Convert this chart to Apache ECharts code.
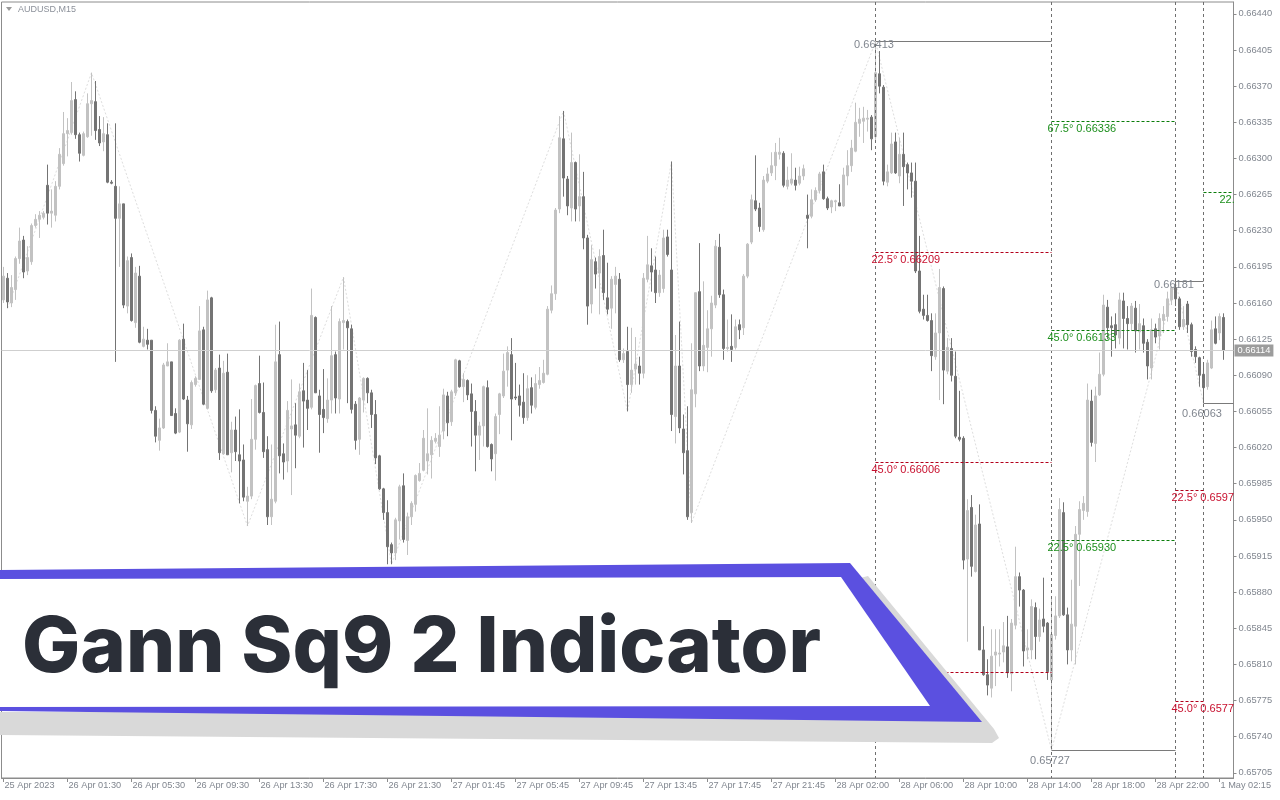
<!DOCTYPE html>
<html>
<head>
<meta charset="utf-8">
<script src="https://cdn.jsdelivr.net/npm/echarts@6/dist/echarts.min.js"></script>
<style>
  html, body { margin: 0; padding: 0; background: #ffffff; }
  #chart { width: 1280px; height: 800px; }
</style>
</head>
<body>
<div id="chart"></div>
<script>
// ---- chart data -------------------------------------------------------
const symbolTitle = 'AUDUSD,M15';
const bannerTitle = 'Gann Sq9 2 Indicator';

// time axis captions, one every 16 bars of M15
const timeLabels = ['25 Apr 2023', '26 Apr 01:30', '26 Apr 05:30', '26 Apr 09:30', '26 Apr 13:30',
  '26 Apr 17:30', '26 Apr 21:30', '27 Apr 01:45', '27 Apr 05:45', '27 Apr 09:45', '27 Apr 13:45',
  '27 Apr 17:45', '27 Apr 21:45', '28 Apr 02:00', '28 Apr 06:00', '28 Apr 10:00', '28 Apr 14:00',
  '28 Apr 18:00', '28 Apr 22:00', '1 May 02:15'];
const barsPerLabel = 16;
const trailingSlots = 2; // empty bars of chart shift on the right

// price scale captions
const priceTicks = [0.65705, 0.65740, 0.65775, 0.65810, 0.65845, 0.65880, 0.65915, 0.65950,
  0.65985, 0.66020, 0.66055, 0.66090, 0.66125, 0.66160, 0.66195, 0.66230, 0.66265, 0.66300,
  0.66335, 0.66370, 0.66405, 0.66440];

// bars: [open, close, low, high]
const candles = [
  [0.66163,0.66186,0.66160,0.66195],[0.66184,0.66161,0.66155,0.66189],[0.66160,0.66175,0.66156,0.66187],[0.66173,0.66203,0.66163,0.66205],
  [0.66203,0.66220,0.66198,0.66233],[0.66221,0.66190,0.66184,0.66225],[0.66191,0.66204,0.66187,0.66215],[0.66200,0.66235,0.66197,0.66237],
  [0.66235,0.66241,0.66233,0.66246],[0.66241,0.66245,0.66223,0.66249],[0.66243,0.66247,0.66241,0.66249],[0.66274,0.66247,0.66236,0.66294],
  [0.66247,0.66249,0.66233,0.66270],[0.66245,0.66273,0.66239,0.66278],[0.66273,0.66304,0.66270,0.66310],[0.66295,0.66324,0.66293,0.66345],
  [0.66324,0.66327,0.66302,0.66339],[0.66325,0.66356,0.66323,0.66374],[0.66357,0.66323,0.66319,0.66365],[0.66323,0.66305,0.66297,0.66325],
  [0.66303,0.66324,0.66302,0.66326],[0.66321,0.66353,0.66320,0.66363],[0.66353,0.66356,0.66322,0.66383],[0.66355,0.66327,0.66318,0.66375],
  [0.66328,0.66315,0.66312,0.66341],[0.66316,0.66324,0.66307,0.66340],[0.66323,0.66277,0.66276,0.66334],[0.66277,0.66276,0.66275,0.66279],
  [0.66273,0.66242,0.66103,0.66334],[0.66242,0.66256,0.66195,0.66273],[0.66256,0.66158,0.66155,0.66256],[0.66157,0.66201,0.66150,0.66205],
  [0.66204,0.66143,0.66142,0.66208],[0.66141,0.66189,0.66136,0.66195],[0.66186,0.66122,0.66121,0.66196],[0.66118,0.66125,0.66117,0.66137],
  [0.66124,0.66120,0.66115,0.66135],[0.66124,0.66056,0.66053,0.66124],[0.66056,0.66031,0.66025,0.66060],[0.66027,0.66039,0.66017,0.66048],
  [0.66039,0.66100,0.66038,0.66102],[0.66099,0.66103,0.66099,0.66121],[0.66103,0.66051,0.66051,0.66103],[0.66053,0.66034,0.66033,0.66058],
  [0.66035,0.66124,0.66034,0.66125],[0.66125,0.66067,0.66066,0.66140],[0.66066,0.66043,0.66016,0.66070],[0.66042,0.66083,0.66038,0.66085],
  [0.66081,0.66087,0.66079,0.66089],[0.66086,0.66133,0.66086,0.66157],[0.66134,0.66062,0.66061,0.66137],[0.66058,0.66163,0.66057,0.66172],
  [0.66165,0.66075,0.66073,0.66166],[0.66076,0.66095,0.66073,0.66097],[0.66097,0.66015,0.66008,0.66110],[0.66014,0.66092,0.66013,0.66104],
  [0.66093,0.66013,0.66013,0.66111],[0.66015,0.66037,0.65996,0.66045],[0.66037,0.66016,0.66007,0.66050],[0.66013,0.66007,0.65966,0.66057],
  [0.66008,0.65972,0.65968,0.66023],[0.65968,0.65973,0.65944,0.65982],[0.65973,0.66028,0.65970,0.66067],[0.66028,0.66080,0.66018,0.66081],
  [0.66082,0.66054,0.66053,0.66109],[0.66054,0.66016,0.66010,0.66083],[0.66018,0.65953,0.65945,0.66031],[0.65953,0.65970,0.65945,0.66023],
  [0.65968,0.66103,0.65966,0.66139],[0.66110,0.66012,0.65995,0.66142],[0.66014,0.66006,0.65989,0.66024],[0.66007,0.66056,0.65996,0.66065],
  [0.66038,0.66041,0.65974,0.66086],[0.66042,0.66032,0.66000,0.66063],[0.66031,0.66074,0.66029,0.66082],[0.66075,0.66065,0.66020,0.66102],
  [0.66066,0.66058,0.66037,0.66095],[0.66059,0.66148,0.66057,0.66174],[0.66146,0.66073,0.66073,0.66147],[0.66070,0.66052,0.66015,0.66076],
  [0.66057,0.66049,0.66034,0.66096],[0.66048,0.66066,0.66044,0.66087],[0.66066,0.66109,0.66053,0.66157],[0.66110,0.66068,0.66053,0.66113],
  [0.66067,0.66142,0.66053,0.66145],[0.66141,0.66143,0.66115,0.66185],[0.66142,0.66136,0.66063,0.66144],[0.66135,0.66057,0.66053,0.66139],
  [0.66062,0.66027,0.66018,0.66065],[0.66028,0.66068,0.66013,0.66069],[0.66066,0.66087,0.66054,0.66088],[0.66087,0.66073,0.66063,0.66088],
  [0.66073,0.66052,0.66039,0.66076],[0.66052,0.66010,0.66004,0.66066],[0.66012,0.65980,0.65979,0.66013],[0.65980,0.65957,0.65950,0.65981],
  [0.65957,0.65924,0.65907,0.65969],[0.65926,0.65918,0.65907,0.65928],[0.65918,0.65950,0.65911,0.65952],[0.65949,0.65982,0.65931,0.65984],
  [0.65983,0.65931,0.65928,0.65995],[0.65930,0.65953,0.65916,0.65957],[0.65953,0.65966,0.65945,0.65968],[0.65965,0.65993,0.65958,0.65994],
  [0.65988,0.65995,0.65987,0.66005],[0.65998,0.66029,0.65997,0.66037],[0.66007,0.66014,0.65994,0.66058],[0.66013,0.66027,0.65990,0.66031],
  [0.66026,0.66029,0.66024,0.66034],[0.66021,0.66032,0.66011,0.66060],[0.66036,0.66071,0.66028,0.66077],[0.66070,0.66044,0.66031,0.66074],
  [0.66045,0.66074,0.66041,0.66076],[0.66073,0.66105,0.66070,0.66106],[0.66104,0.66079,0.66078,0.66105],[0.66079,0.66086,0.66064,0.66092],
  [0.66085,0.66071,0.66066,0.66086],[0.66072,0.66055,0.66021,0.66082],[0.66055,0.66032,0.65997,0.66066],[0.66032,0.66041,0.66008,0.66045],
  [0.66041,0.66079,0.66021,0.66080],[0.66078,0.66021,0.66020,0.66085],[0.66023,0.66009,0.65997,0.66024],[0.66014,0.66050,0.65988,0.66053],
  [0.66052,0.66072,0.66033,0.66073],[0.66070,0.66094,0.66068,0.66111],[0.66095,0.66112,0.66079,0.66118],[0.66110,0.66067,0.66027,0.66126],
  [0.66069,0.66068,0.66066,0.66102],[0.66070,0.66061,0.66050,0.66081],[0.66064,0.66049,0.66043,0.66092],[0.66049,0.66077,0.66046,0.66090],
  [0.66078,0.66061,0.66053,0.66088],[0.66059,0.66082,0.66057,0.66091],[0.66081,0.66085,0.66077,0.66098],[0.66083,0.66092,0.66082,0.66105],
  [0.66091,0.66154,0.66090,0.66157],[0.66153,0.66169,0.66150,0.66177],[0.66169,0.66250,0.66163,0.66252],[0.66251,0.66320,0.66247,0.66341],
  [0.66319,0.66281,0.66263,0.66346],[0.66280,0.66254,0.66245,0.66283],[0.66252,0.66296,0.66239,0.66325],[0.66296,0.66251,0.66239,0.66297],
  [0.66254,0.66263,0.66239,0.66304],[0.66263,0.66223,0.66212,0.66287],[0.66223,0.66157,0.66139,0.66226],[0.66159,0.66202,0.66150,0.66216],
  [0.66200,0.66188,0.66174,0.66204],[0.66189,0.66205,0.66149,0.66212],[0.66206,0.66170,0.66163,0.66231],[0.66165,0.66154,0.66149,0.66199],
  [0.66155,0.66183,0.66135,0.66186],[0.66178,0.66186,0.66150,0.66195],[0.66183,0.66105,0.66103,0.66189],[0.66105,0.66111,0.66102,0.66116],
  [0.66113,0.66081,0.66055,0.66137],[0.66081,0.66095,0.66073,0.66136],[0.66096,0.66101,0.66081,0.66127],[0.66099,0.66092,0.66081,0.66108],
  [0.66092,0.66184,0.66087,0.66189],[0.66183,0.66197,0.66180,0.66225],[0.66196,0.66190,0.66171,0.66213],[0.66192,0.66170,0.66160,0.66205],
  [0.66170,0.66187,0.66166,0.66192],[0.66174,0.66223,0.66170,0.66231],[0.66224,0.66207,0.66205,0.66231],[0.66192,0.66052,0.66036,0.66297],
  [0.66050,0.66099,0.66024,0.66129],[0.66099,0.66039,0.66034,0.66142],[0.66038,0.66015,0.65994,0.66052],[0.66017,0.65953,0.65950,0.66060],
  [0.65957,0.66076,0.65947,0.66121],[0.66072,0.66170,0.66059,0.66170],[0.66171,0.66099,0.66094,0.66218],[0.66099,0.66119,0.66094,0.66181],
  [0.66117,0.66135,0.66093,0.66153],[0.66135,0.66160,0.66108,0.66167],[0.66158,0.66215,0.66155,0.66221],[0.66214,0.66168,0.66165,0.66227],
  [0.66168,0.66116,0.66105,0.66173],[0.66116,0.66117,0.66113,0.66144],[0.66118,0.66115,0.66103,0.66149],[0.66117,0.66137,0.66115,0.66144],
  [0.66139,0.66134,0.66125,0.66144],[0.66136,0.66186,0.66129,0.66188],[0.66186,0.66217,0.66184,0.66218],[0.66219,0.66260,0.66217,0.66265],
  [0.66259,0.66251,0.66249,0.66303],[0.66252,0.66234,0.66229,0.66257],[0.66231,0.66279,0.66229,0.66283],[0.66278,0.66285,0.66276,0.66291],
  [0.66286,0.66293,0.66283,0.66306],[0.66293,0.66306,0.66279,0.66315],[0.66304,0.66306,0.66299,0.66320],[0.66305,0.66274,0.66272,0.66307],
  [0.66273,0.66279,0.66270,0.66292],[0.66276,0.66280,0.66274,0.66305],[0.66279,0.66274,0.66269,0.66291],[0.66276,0.66283,0.66274,0.66292],
  [0.66283,0.66290,0.66279,0.66294],[0.66245,0.66242,0.66213,0.66265],[0.66244,0.66260,0.66242,0.66270],[0.66260,0.66269,0.66258,0.66272],
  [0.66269,0.66285,0.66266,0.66287],[0.66287,0.66261,0.66260,0.66294],[0.66261,0.66252,0.66250,0.66263],[0.66253,0.66259,0.66247,0.66260],
  [0.66258,0.66259,0.66249,0.66260],[0.66257,0.66254,0.66254,0.66275],[0.66254,0.66284,0.66253,0.66291],[0.66283,0.66293,0.66274,0.66308],
  [0.66293,0.66310,0.66287,0.66318],[0.66307,0.66335,0.66306,0.66354],[0.66334,0.66338,0.66321,0.66349],[0.66336,0.66339,0.66315,0.66350],
  [0.66338,0.66339,0.66326,0.66347],[0.66340,0.66319,0.66308,0.66342],[0.66321,0.66383,0.66318,0.66413],[0.66382,0.66370,0.66363,0.66404],
  [0.66369,0.66278,0.66274,0.66371],[0.66277,0.66287,0.66273,0.66294],[0.66286,0.66314,0.66285,0.66325],[0.66316,0.66286,0.66285,0.66325],
  [0.66283,0.66304,0.66276,0.66320],[0.66304,0.66292,0.66254,0.66325],[0.66294,0.66286,0.66270,0.66296],[0.66286,0.66278,0.66262,0.66296],
  [0.66278,0.66191,0.66189,0.66296],[0.66191,0.66152,0.66150,0.66225],[0.66154,0.66148,0.66144,0.66168],[0.66148,0.66143,0.66142,0.66168],
  [0.66143,0.66109,0.66094,0.66150],[0.66108,0.66131,0.66105,0.66150],[0.66131,0.66175,0.66066,0.66193],[0.66174,0.66095,0.66062,0.66176],
  [0.66094,0.66117,0.66091,0.66126],[0.66116,0.66090,0.66084,0.66126],[0.66089,0.66031,0.66029,0.66113],[0.66030,0.66028,0.66026,0.66075],
  [0.66029,0.65911,0.65902,0.66031],[0.65912,0.65959,0.65832,0.65970],[0.65962,0.65905,0.65895,0.65974],[0.65900,0.65945,0.65899,0.65955],
  [0.65946,0.65824,0.65824,0.65965],[0.65824,0.65800,0.65799,0.65847],[0.65800,0.65790,0.65780,0.65815],[0.65787,0.65818,0.65778,0.65844],
  [0.65819,0.65822,0.65789,0.65844],[0.65820,0.65821,0.65808,0.65844],[0.65822,0.65828,0.65812,0.65851],[0.65827,0.65802,0.65797,0.65857],
  [0.65801,0.65850,0.65784,0.65854],[0.65848,0.65895,0.65844,0.65924],[0.65895,0.65882,0.65866,0.65899],[0.65882,0.65823,0.65808,0.65883],
  [0.65824,0.65826,0.65815,0.65844],[0.65824,0.65866,0.65815,0.65873],[0.65865,0.65837,0.65815,0.65870],[0.65837,0.65853,0.65832,0.65864],
  [0.65854,0.65847,0.65841,0.65894],[0.65850,0.65803,0.65795,0.65851],[0.65795,0.65839,0.65727,0.65876],[0.65838,0.65857,0.65834,0.65876],
  [0.65857,0.65960,0.65855,0.65971],[0.65957,0.65858,0.65857,0.65967],[0.65858,0.65824,0.65810,0.65865],[0.65824,0.65849,0.65813,0.65892],
  [0.65847,0.65936,0.65810,0.65944],[0.65936,0.65960,0.65886,0.65968],[0.65959,0.65966,0.65950,0.65973],[0.65958,0.66066,0.65953,0.66082],
  [0.66065,0.66025,0.66021,0.66076],[0.66024,0.66070,0.66006,0.66079],[0.66071,0.66091,0.66070,0.66112],[0.66091,0.66158,0.66089,0.66168],
  [0.66156,0.66136,0.66125,0.66163],[0.66138,0.66136,0.66108,0.66147],[0.66139,0.66129,0.66116,0.66150],[0.66126,0.66163,0.66120,0.66170],
  [0.66162,0.66145,0.66116,0.66170],[0.66145,0.66140,0.66115,0.66157],[0.66140,0.66157,0.66133,0.66160],[0.66155,0.66133,0.66112,0.66162],
  [0.66132,0.66140,0.66115,0.66159],[0.66138,0.66121,0.66112,0.66145],[0.66122,0.66099,0.66086,0.66125],[0.66097,0.66134,0.66086,0.66145],
  [0.66135,0.66127,0.66121,0.66140],[0.66128,0.66145,0.66115,0.66150],[0.66143,0.66149,0.66131,0.66157],[0.66147,0.66164,0.66142,0.66171],
  [0.66163,0.66175,0.66158,0.66176],[0.66175,0.66164,0.66157,0.66181],[0.66164,0.66137,0.66134,0.66166],[0.66137,0.66144,0.66134,0.66157],
  [0.66159,0.66139,0.66131,0.66162],[0.66139,0.66113,0.66108,0.66141],[0.66115,0.66108,0.66102,0.66118],[0.66107,0.66090,0.66079,0.66108],
  [0.66091,0.66078,0.66063,0.66102],[0.66079,0.66102,0.66076,0.66105],[0.66097,0.66134,0.66096,0.66143],[0.66135,0.66121,0.66120,0.66147],
  [0.66131,0.66147,0.66124,0.66150],[0.66146,0.66114,0.66105,0.66150]
];

// ZigZag pivots: [bar, price]
const zigzag = [[1, 0.66155], [22, 0.66383], [61, 0.65944], [85, 0.66185], [97, 0.65907],
  [140, 0.66346], [156, 0.66055], [167, 0.66297], [172, 0.65947], [218, 0.66413],
  [262, 0.65727], [293, 0.66181], [300, 0.66063]];

// swing extremes used as Square-of-9 anchors: [from bar, to bar (null = open), price]
const swingBars = [218, 262, 293, 300];
const swingLines = [[218, 262, 0.66413], [262, 293, 0.65727], [293, 300, 0.66181], [300, null, 0.66063]];
const swingKinds = ['high', 'low', 'high', 'low'];

// Square-of-9 levels: [from bar, to bar (null = open), angle, price]
const gannLevels = [
  [218, 262, 22.5, 0.66209], [218, 262, 45.0, 0.66006], [218, 262, 67.5, 0.65802],
  [262, 293, 22.5, 0.65930], [262, 293, 45.0, 0.66133], [262, 293, 67.5, 0.66336],
  [293, 300, 22.5, 0.65978], [293, 300, 45.0, 0.65774],
  [300, null, 22.5, 0.66267]
];
const gannSides = ['down', 'down', 'down', 'up', 'up', 'up', 'down', 'down', 'up'];

// ---- rendering ----------------------------------------------------------
const FONT = '"Liberation Sans", Arial, sans-serif';
const AXIS_COLOR = '#8c8c8c';
const TEXT_COLOR = '#80868f';
const BULL = '#c2c2c2';
const BEAR = '#747474';
const sideStyle = {
  down: { line: '#b3001b', text: '#c8102e' },
  up:   { line: '#0a7d0a', text: '#1d8f1d' }
};

const lastBar = candles.length - 1;
const lastClose = candles[lastBar][1];
const slotNames = [];
for (let i = 0; i < candles.length + trailingSlots; i++) slotNames.push(String(i));
const isLabelBar = (index) => index % barsPerLabel === 0 && index / barsPerLabel < timeLabels.length;

const crisp = (v) => Math.floor(v) + 0.5;

function rightEdge(params, api, endBar) {
  if (endBar === null) return params.coordSys.x + params.coordSys.width;
  return crisp(api.coord([endBar, 0])[0]);
}

function renderSwing(params, api) {
  const row = swingLines[params.dataIndex];
  const start = api.coord([row[0], row[2]]);
  const x1 = crisp(start[0]);
  const x2 = rightEdge(params, api, row[1]);
  const y = crisp(start[1]);
  const isHigh = swingKinds[params.dataIndex] === 'high';
  return {
    type: 'group',
    children: [
      { type: 'line', shape: { x1: x1, y1: y, x2: x2, y2: y },
        style: { stroke: '#7a7a7a', lineWidth: 1 } },
      { type: 'text', x: x1 - 1.5, y: y + (isHigh ? 3 : 10),
        style: { text: row[2].toFixed(5), fill: TEXT_COLOR, font: '11px ' + FONT,
                 align: 'center', verticalAlign: 'middle' } }
    ]
  };
}

function renderGann(params, api) {
  const row = gannLevels[params.dataIndex];
  const side = sideStyle[gannSides[params.dataIndex]];
  const start = api.coord([row[0], row[3]]);
  const x1 = crisp(start[0]);
  const x2 = rightEdge(params, api, row[1]);
  const y = crisp(start[1]);
  const tagX = (row[1] === null ? crisp(api.coord([lastBar, row[3]])[0]) : x1) - 4;
  return {
    type: 'group',
    children: [
      { type: 'line', shape: { x1: x1, y1: y, x2: x2, y2: y },
        style: { stroke: side.line, lineWidth: 1, lineDash: [3, 2] } },
      { type: 'text', x: tagX, y: y + 7,
        style: { text: row[2].toFixed(1) + '\u00b0 ' + row[3].toFixed(5), fill: side.text,
                 font: '11px ' + FONT, align: 'left', verticalAlign: 'middle' } }
    ]
  };
}

function renderPivotLine(params, api) {
  const x = crisp(api.coord([swingBars[params.dataIndex], 0])[0]);
  const cs = params.coordSys;
  return { type: 'line', shape: { x1: x, y1: cs.y, x2: x, y2: cs.y + cs.height },
           style: { stroke: '#6f6f6f', lineWidth: 1, lineDash: [3, 3] } };
}

const chart = echarts.init(document.getElementById('chart'), null, { renderer: 'canvas' });

chart.setOption({
  animation: false,
  backgroundColor: '#ffffff',
  grid: { left: 1.5, right: 46.5, top: 2, bottom: 22, show: true,
          borderColor: AXIS_COLOR, borderWidth: 1, backgroundColor: 'transparent' },
  xAxis: {
    type: 'category',
    data: slotNames,
    boundaryGap: true,
    axisLine: { show: true, lineStyle: { color: AXIS_COLOR } },
    axisTick: { show: true, alignWithLabel: true, interval: isLabelBar, length: 4,
                lineStyle: { color: AXIS_COLOR } },
    axisLabel: { interval: isLabelBar, align: 'left', margin: 3, padding: [0, 0, 0, 1],
                 formatter: (v, i) => timeLabels[i / barsPerLabel] || '',
                 color: TEXT_COLOR, fontFamily: FONT, fontSize: 9.2 },
    splitLine: { show: false }
  },
  yAxis: {
    type: 'value',
    position: 'right',
    min: 0.65700,
    max: 0.664515,
    axisLine: { show: true, lineStyle: { color: AXIS_COLOR } },
    axisTick: { show: true, length: 3, customValues: priceTicks, lineStyle: { color: AXIS_COLOR } },
    axisLabel: { customValues: priceTicks, formatter: (v) => v.toFixed(5), margin: 5,
                 color: TEXT_COLOR, fontFamily: FONT, fontSize: 9.3 },
    splitLine: { show: false }
  },
  series: [
    {
      type: 'line',
      name: 'zigzag',
      data: zigzag,
      symbol: 'none',
      silent: true,
      z: 1,
      lineStyle: { color: '#dedede', width: 1, type: [2, 2] },
      markLine: {
        silent: true,
        symbol: 'none',
        precision: 5,
        data: [{ yAxis: lastClose }],
        lineStyle: { color: '#cfcfcf', width: 1, type: 'solid' },
        label: { show: true, position: 'end', distance: 1, formatter: () => lastClose.toFixed(5),
                 backgroundColor: '#9c9c9c', color: '#ffffff', padding: [2, 3, 1, 3],
                 fontFamily: FONT, fontSize: 9.3 }
      }
    },
    {
      type: 'candlestick',
      name: symbolTitle,
      data: candles,
      barWidth: 2,
      z: 3,
      itemStyle: { color: BULL, color0: BEAR, borderColor: BULL, borderColor0: BEAR, borderWidth: 1 }
    },
    {
      type: 'custom',
      name: 'pivots',
      data: swingBars.map((b) => [b, lastClose]),
      renderItem: renderPivotLine,
      clip: true,
      silent: true,
      z: 4
    },
    {
      type: 'custom',
      name: 'swings',
      data: swingLines.map((r) => [r[0], r[2]]),
      renderItem: renderSwing,
      clip: true,
      silent: true,
      z: 5
    },
    {
      type: 'custom',
      name: 'sq9',
      data: gannLevels.map((r) => [r[0], r[3]]),
      renderItem: renderGann,
      clip: true,
      silent: true,
      z: 5
    }
  ],
  graphic: [
    { type: 'polygon', z: 100, shape: { points: [[6, 7], [12, 7], [9, 11]] }, style: { fill: '#9a9a9a' } },
    { type: 'text', z: 100, x: 18, y: 10,
      style: { text: symbolTitle, fill: '#8c919a', font: '9px ' + FONT, verticalAlign: 'middle' } },
    // banner shadow
    { type: 'polygon', z: 100,
      shape: { points: [[0, 712], [930, 712], [856, 579], [868, 576], [994, 729], [999, 738], [992, 743], [0, 735]] },
      style: { fill: '#d9d9d9' } },
    // banner frame
    { type: 'polygon', z: 101,
      shape: { points: [[0, 570], [850, 563], [982, 722], [0, 711]] },
      style: { fill: '#5b50e0' } },
    // banner face
    { type: 'polygon', z: 102,
      shape: { points: [[0, 579], [841, 577], [930, 706], [0, 707]] },
      style: { fill: '#ffffff' } },
    { type: 'text', z: 103, x: 22, y: 649,
      style: { text: bannerTitle, fill: '#2b2f38', fontFamily: 'Inter', fontWeight: 800,
               fontSize: 77.5, verticalAlign: 'middle' } }
  ]
});
</script>
</body>
</html>
